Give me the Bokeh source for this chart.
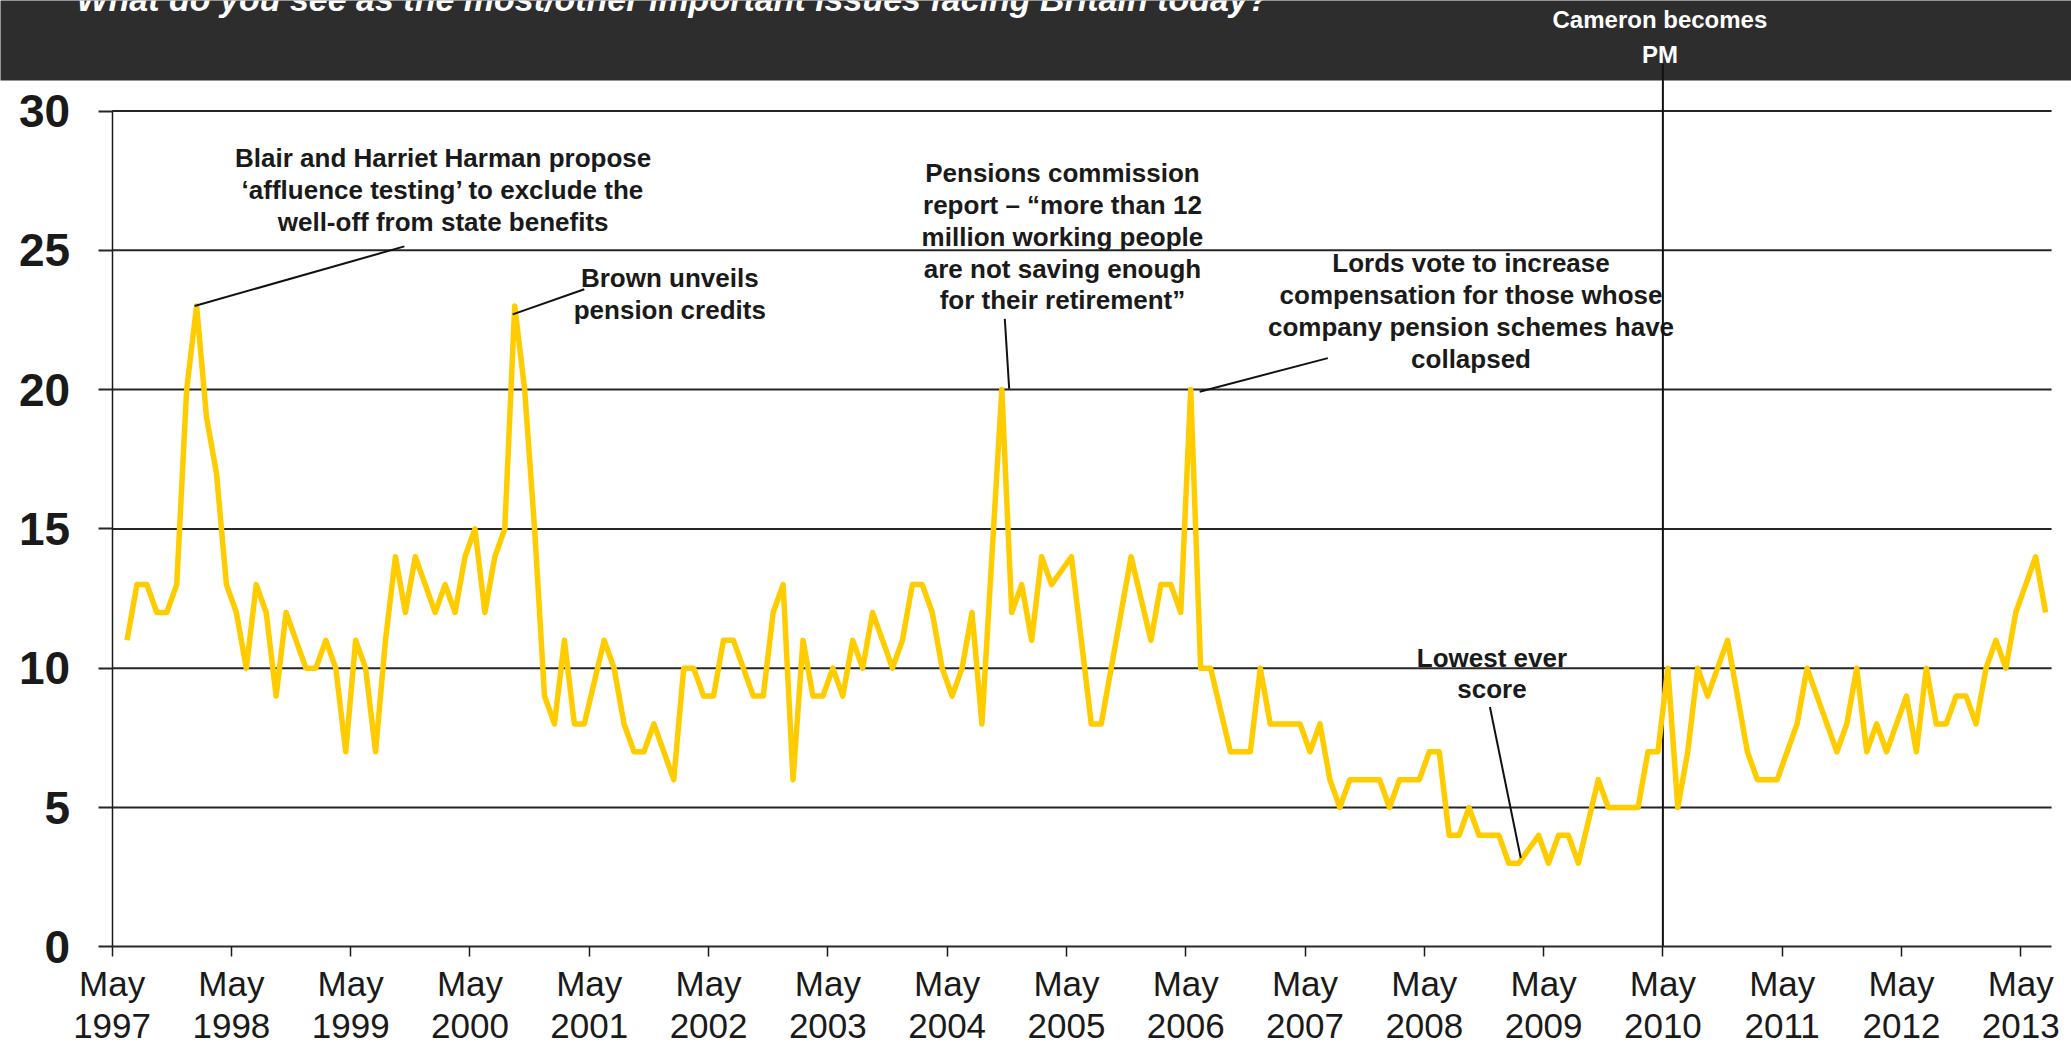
from bokeh.plotting import figure
from bokeh.models import Range1d, LinearAxis, FixedTicker
from bokeh.embed import file_html
from bokeh.resources import INLINE
from bokeh.core.properties import value

# ---------------- data ----------------
title_text = "What do you see as the most/other important issues facing Britain today?"
first_month = (1997, 6)          # first survey month in the series
# % naming pensions / social security as an important issue, one value per month
# (None = month without a readable point)
monthly_share = [
    11, 13, 13, 12, 12, 13, 20,                      # 1997 Jun-Dec
    23, 19, 17, 13, 12, 10, 13, 12, 9, 12, 11, 10,   # 1998
    10, 11, 10, 7, 11, 10, 7, 11, 14, 12, 14, 13,    # 1999
    12, 13, 12, 14, 15, 12, 14, 15, 23, 20, 15, 9,   # 2000
    8, 11, 8, 8, None, 11, 10, 8, 7, 7, 8, 7,        # 2001
    6, 10, 10, 9, 9, 11, 11, 10, 9, 9, 12, 13,       # 2002
    6, 11, 9, 9, 10, 9, 11, 10, 12, 11, 10, 11,      # 2003
    13, 13, 12, 10, 9, 10, 12, 8, 14, 20, 12, 13,    # 2004
    11, 14, 13, None, 14, 11, 8, 8, 10, 12, 14, None,  # 2005
    11, 13, 13, 12, 20, 10, 10, None, 7, 7, 7, 10,   # 2006
    8, 8, 8, 8, 7, 8, 6, 5, 6, 6, 6, 6,              # 2007
    5, 6, 6, 6, 7, 7, 4, 4, 5, 4, 4, 4,              # 2008
    3, 3, None, 4, 3, 4, 4, 3, None, 6, 5, 5,        # 2009
    5, 5, 7, 7, 10, 5, 7, 10, 9, 10, 11, 9,          # 2010
    7, 6, 6, 6, 7, 8, 10, 9, 8, 7, 8, 10,            # 2011
    7, 8, 7, 8, 9, 7, 10, 8, 8, 9, 9, 8,             # 2012
    10, 11, 10, 12, 13, 14, 12,                      # 2013 Jan-Jul
]
y_ticks = [0, 5, 10, 15, 20, 25, 30]
tick_years = list(range(1997, 2014))
tick_labels = ["May\n%d" % y for y in tick_years]
tick_month = 5
cameron_month = (2010, 5)
cameron_label = ["Cameron becomes", "PM"]

annotations = [
    ["Blair and Harriet Harman propose", "\u2018affluence testing\u2019 to exclude the",
     "well-off from state benefits"],
    ["Brown unveils", "pension credits"],
    ["Pensions commission", "report \u2013 \u201cmore than 12", "million working people",
     "are not saving enough", "for their retirement\u201d"],
    ["Lords vote to increase", "compensation for those whose",
     "company pension schemes have", "collapsed"],
    ["Lowest ever", "score"],
]

# ---------------- layout (pixels / placement) ----------------
W, H = 2071, 1048
AXIS_PX = 111.6        # canvas x of the y axis (May 1997)
ZERO_PX = 946.3        # canvas y of value 0
PX_MONTH = 9.941
PX_UNIT = 27.86
X_END = 195.1          # right end of plot area, months after May 1997
Y_TOP = 30
HEADER_PX = 80
LINE_SP = 31.7 / PX_UNIT

ann_pos = [(33.3, 27.98), (56.1, 23.68), (95.6, 27.44), (136.7, 24.21), (138.8, 10.06)]
leaders = [((29.4, 25.14), (8.3, 23.0)),
           ((47.5, 23.6), (40.3, 22.7)),
           ((89.8, 22.54), (90.24, 20.03)),
           ((122.3, 21.13), (109.4, 19.92)),
           ((138.6, 8.61), (141.7, 3.19))]
cameron_text_pos = (155.7, 33.0, 31.75)
cameron_line_top = 31.7
title_pos = (-3.58, 33.62)

FONT = "Liberation Sans"
DARK = "#1a1a1a"
ANN_PX, TITLE_PX, CAM_PX = 26, 34, 24


def lift(font_px):
    # raise text so its baseline lands where it was measured
    return 0.34 * font_px / PX_UNIT


def month_offset(year, month):
    return (year - 1997) * 12 + (month - tick_month)


x0 = month_offset(*first_month)
xs, ys = [], []
for i, v in enumerate(monthly_share):
    if v is None:
        continue
    xs.append(x0 + i + 0.5)
    ys.append(v)

tick_pos = [month_offset(y, tick_month) for y in tick_years]

x_range = Range1d(-AXIS_PX / PX_MONTH, (W - AXIS_PX) / PX_MONTH)
y_range = Range1d(-(H - ZERO_PX) / PX_UNIT, ZERO_PX / PX_UNIT)

p = figure(width=W, height=H, x_range=x_range, y_range=y_range,
           output_backend="svg", toolbar_location=None,
           x_axis_type=None, y_axis_type=None, min_border=0)
p.outline_line_color = None
p.background_fill_color = "white"
p.border_fill_color = "white"

# header band
header_bottom = (ZERO_PX - HEADER_PX) / PX_UNIT
p.quad(left=[x_range.start - 1], right=[x_range.end + 1], bottom=[header_bottom],
       top=[y_range.end + 1], fill_color="#2d2d2d", line_color=None)

# gridlines
grid_y = [t for t in y_ticks if t > 0]
p.segment(x0=[0] * len(grid_y), x1=[X_END] * len(grid_y), y0=grid_y, y1=grid_y,
          line_color="#262626", line_width=2)

# annotation texts
tx, ty, tt = [], [], []
for (ax, ay), lines in zip(ann_pos, annotations):
    for j, line in enumerate(lines):
        tx.append(ax)
        ty.append(ay - j * LINE_SP + lift(ANN_PX))
        tt.append(line)
p.text(x=tx, y=ty, text=tt, text_font=value(FONT), text_font_style="bold",
       text_font_size="%dpx" % ANN_PX, text_align="center", text_baseline="alphabetic",
       text_color=DARK)

# title and Cameron label in header
p.text(x=[title_pos[0]], y=[title_pos[1] + lift(TITLE_PX)], text=[title_text],
       text_font=value(FONT), text_font_style="bold italic",
       text_font_size="%dpx" % TITLE_PX, text_align="left",
       text_baseline="alphabetic", text_color="white")
cx, cy1, cy2 = cameron_text_pos
p.text(x=[cx, cx], y=[cy1 + lift(CAM_PX), cy2 + lift(CAM_PX)], text=cameron_label,
       text_font=value(FONT), text_font_style="bold", text_font_size="%dpx" % CAM_PX,
       text_align="center", text_baseline="alphabetic", text_color="white")

# Cameron vertical line
cam_x = month_offset(*cameron_month)
p.segment(x0=[cam_x], x1=[cam_x], y0=[0], y1=[cameron_line_top],
          line_color="#111111", line_width=2)

# data line
p.line(xs, ys, line_color="#FFCC00", line_width=5.5, line_join="round")

# leader lines
p.segment(x0=[a[0] for a, b in leaders], y0=[a[1] for a, b in leaders],
          x1=[b[0] for a, b in leaders], y1=[b[1] for a, b in leaders],
          line_color="#111111", line_width=2)

# axes
yaxis = LinearAxis(ticker=FixedTicker(ticks=y_ticks), fixed_location=0, bounds=(0, Y_TOP))
yaxis.axis_line_color = "#1a1a1a"
yaxis.axis_line_width = 1.5
yaxis.major_tick_line_color = "#262626"
yaxis.major_tick_line_width = 2
yaxis.major_tick_out = 14
yaxis.major_tick_in = 0
yaxis.minor_tick_line_color = None
yaxis.major_label_standoff = 28
yaxis.major_label_text_font = FONT
yaxis.major_label_text_font_style = "bold"
yaxis.major_label_text_font_size = "46px"
yaxis.major_label_text_color = DARK
p.add_layout(yaxis, "left")

xaxis = LinearAxis(ticker=FixedTicker(ticks=tick_pos), fixed_location=0, bounds=(0, X_END),
                   major_label_overrides={t: l for t, l in zip(tick_pos, tick_labels)})
xaxis.axis_line_color = "#2b2b2b"
xaxis.axis_line_width = 2
xaxis.major_tick_line_color = "#1a1a1a"
xaxis.major_tick_line_width = 1.5
xaxis.major_tick_out = 10
xaxis.major_tick_in = 0
xaxis.minor_tick_line_color = None
xaxis.major_label_standoff = 7
xaxis.major_label_text_font = FONT
xaxis.major_label_text_font_size = "35px"
xaxis.major_label_text_line_height = 1.08
xaxis.major_label_text_color = DARK
p.add_layout(xaxis, "below")

open("out.html", "w").write(file_html(p, INLINE))
